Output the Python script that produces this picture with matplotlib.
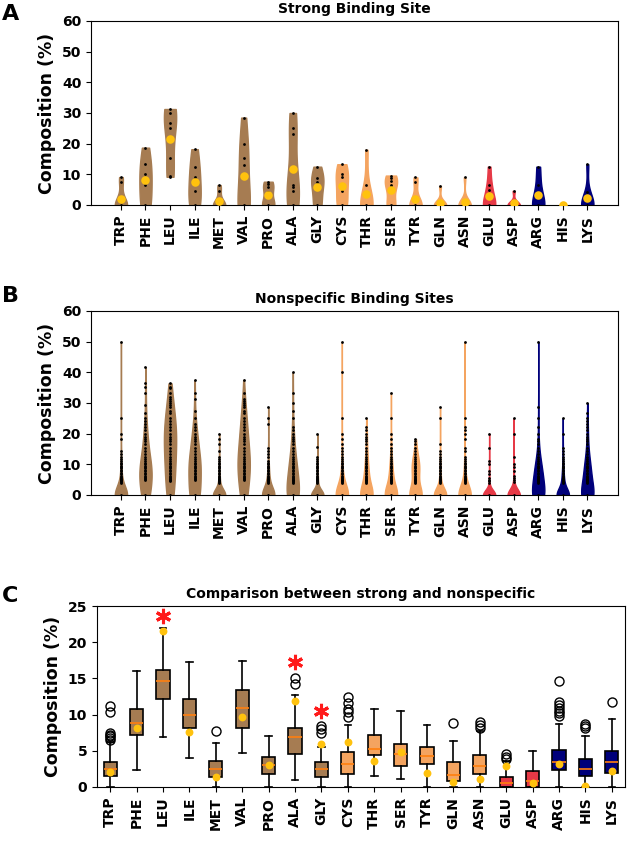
import numpy as np
import matplotlib
matplotlib.use('Agg')
import matplotlib.pyplot as plt

plt.rcParams['font.family'] = ['DejaVu Sans']
plt.rcParams['font.weight'] = 'bold'
plt.rcParams['axes.labelweight'] = 'bold'
plt.rcParams['axes.titleweight'] = 'bold'

RESIDUES = ['TRP', 'PHE', 'LEU', 'ILE', 'MET', 'VAL', 'PRO', 'ALA', 'GLY', 'CYS',
            'THR', 'SER', 'TYR', 'GLN', 'ASN', 'GLU', 'ASP', 'ARG', 'HIS', 'LYS']
GROUP = ['hyd'] * 9 + ['pol'] * 6 + ['neg'] * 2 + ['pos'] * 3
GROUP_COLORS = {'hyd': '#a67c52', 'pol': '#f4a460', 'neg': '#e63946', 'pos': '#00007a'}
MEAN_COLOR = '#ffc20e'

# Panel A: composition at the strong binding site (values per structure)
STRONG = [
    [0, 0, 0, 0, 0, 0, 7.4, 9.1],                  # TRP
    [0, 0, 6.5, 10.0, 13.3, 18.7],                  # PHE
    [9.2, 9.4, 15.4, 25.0, 26.7, 30.0, 31.3, 31.3], # LEU
    [0, 0, 4.6, 9.0, 12.5, 18.2],                   # ILE
    [0, 0, 0, 0, 0, 0, 4.6, 6.5],                   # MET
    [0, 0, 0, 0, 13.0, 15.3, 19.9, 28.5],           # VAL
    [0, 0, 0, 0, 4.3, 5.8, 6.8, 7.6],               # PRO
    [0, 0, 4.6, 6.0, 6.6, 23.0, 25.0, 30.0],        # ALA
    [0, 0, 6.3, 7.6, 8.9, 12.5],                    # GLY
    [0, 0, 4.6, 9.2, 10.0, 13.3],                   # CYS
    [0, 0, 0, 0, 0, 6.5, 18.0],                     # THR
    [0, 0, 0, 6.0, 6.6, 7.8, 8.9, 9.6],             # SER
    [0, 0, 0, 0, 0, 0, 7.5, 9.0],                   # TYR
    [0, 0, 0, 0, 0, 0, 0, 6.2],                     # GLN
    [0, 0, 0, 0, 0, 0, 0, 0, 9.0],                  # ASN
    [0, 0, 0, 0, 0, 4.8, 6.6, 12.5],                # GLU
    [0, 0, 0, 0, 0, 0, 4.6],                        # ASP
    [0, 0, 0, 0, 6.6, 12.5],                        # ARG
    [0, 0, 0, 0],                                   # HIS
    [0, 0, 0, 0, 0, 0, 4.4, 13.3],                  # LYS
]
STRONG_MEAN = [2.1, 8.2, 21.6, 7.6, 1.4, 9.6, 3.1, 11.9, 6.0, 6.2,
               3.6, 4.9, 2.0, 0.7, 1.1, 2.9, 0.55, 3.2, 0.1, 2.2]

# Panel B: nonspecific sites. Observed composition levels (%)
LEVELS = [4.0, 4.3, 4.5, 4.8, 5.0, 5.3, 5.6, 5.9, 6.3, 6.7, 7.1, 7.7, 8.3, 8.7,
          9.1, 9.5, 10.0, 10.5, 11.1, 11.8, 12.5, 13.3, 14.3, 15.4, 16.7, 17.6,
          18.2, 19.0, 20.0, 21.1, 22.2, 23.1, 24.0, 25.0, 26.7, 27.3, 28.6, 29.4,
          30.0, 30.8, 31.3, 32.0, 33.3, 34.8, 35.3, 36.4]
NS_ZEROS = [150, 30, 25, 35, 150, 25, 120, 50, 150, 150,
            80, 90, 60, 150, 150, 100, 100, 80, 130, 80]
NS_RANGE = [(4.0, 14.3), (5.0, 25.0), (4.5, 36.4), (5.0, 23.1), (4.0, 12.5),
            (5.0, 31.3), (4.0, 11.1), (4.0, 21.1), (4.0, 12.5), (4.0, 15.4),
            (4.0, 22.2), (4.0, 16.7), (4.0, 18.2), (4.0, 14.3), (4.0, 12.5),
            None, None, (4.0, 18.2), (4.0, 15.4), (4.0, 25.0)]
NS_EXTRA = [
    [18.2, 20.0, 25.0, 50.0],
    [26.7, 29.4, 33.3, 35.3, 36.4, 41.7],
    [],
    [25.0, 27.3, 31.3, 33.3, 37.5],
    [14.3, 16.7, 18.2, 20.0],
    [33.3, 37.5],
    [12.5, 13.3, 14.3, 15.4, 23.1, 25.0, 28.6],
    [22.2, 25.0, 27.3, 30.0, 33.3, 40.0],
    [15.8, 20.0],
    [16.7, 18.2, 20.0, 25.0, 40.0, 50.0],
    [25.0],
    [18.2, 20.0, 25.0, 33.3],
    [],
    [16.7, 25.0, 28.6],
    [14.3, 15.4, 18.2, 20.0, 21.1, 22.2, 25.0, 50.0],
    [4.0, 4.5, 5.0, 5.6, 6.7, 7.7, 10.0, 11.1, 15.4, 20.0],
    [4.3, 5.0, 5.6, 6.3, 7.7, 9.1, 10.0, 12.5, 20.0, 25.0],
    [20.0, 22.2, 25.0, 28.6, 50.0],
    [20.0, 25.0],
    [26.7, 30.0],
]
NS_BULK = [
    [],
    [(5.0, 8), (5.6, 7), (6.3, 7), (7.1, 6), (8.3, 6), (10.0, 6), (11.1, 5),
     (12.5, 4), (14.3, 4), (16.7, 3), (18.2, 2), (20.0, 2), (22.2, 1)],
    [(5.0, 4), (6.3, 4), (8.3, 5), (10.0, 6), (12.5, 7), (14.3, 8), (16.7, 9),
     (18.2, 9), (20.0, 9), (22.2, 8), (23.1, 7), (25.0, 7), (27.3, 6), (30.0, 5),
     (33.3, 3), (35.3, 2)],
    [(5.0, 6), (6.3, 5), (7.7, 5), (9.1, 5), (10.0, 5), (11.1, 5), (12.5, 5),
     (14.3, 5), (16.7, 4), (18.2, 3), (20.0, 3), (22.2, 2)],
    [(4.0, 3), (5.0, 3)],
    [(5.0, 5), (6.3, 5), (7.7, 5), (9.1, 6), (10.0, 6), (11.1, 6), (12.5, 6),
     (14.3, 6), (16.7, 6), (18.2, 6), (20.0, 5), (22.2, 5), (25.0, 4), (27.3, 3),
     (30.0, 2)],
    [(4.0, 3), (5.0, 3), (6.3, 2)],
    [(4.0, 5), (5.0, 5), (6.3, 4), (7.7, 4), (9.1, 3), (10.0, 3), (11.1, 3),
     (12.5, 3), (14.3, 2), (16.7, 2), (20.0, 1)],
    [(4.0, 3), (5.0, 3)],
    [(4.0, 3), (5.0, 3)],
    [(4.0, 3), (5.0, 4), (6.3, 3), (7.7, 3), (10.0, 3), (12.5, 2), (14.3, 1)],
    [(4.0, 3), (5.0, 4), (6.3, 3), (7.7, 3), (10.0, 2), (12.5, 1)],
    [(5.0, 2), (6.3, 3), (7.7, 5), (9.1, 6), (10.0, 6), (11.1, 5), (12.5, 3),
     (14.3, 2)],
    [(4.0, 2), (5.0, 3)],
    [(4.0, 2), (5.0, 3)],
    [],
    [],
    [(4.0, 12), (5.0, 12), (6.3, 10), (7.7, 8), (9.1, 6), (10.0, 5), (11.1, 4),
     (12.5, 3), (14.3, 2)],
    [(4.0, 5), (5.0, 5), (6.3, 3)],
    [(4.0, 8), (5.0, 8), (6.3, 7), (7.7, 6), (9.1, 5), (10.0, 5), (11.1, 4),
     (12.5, 3), (14.3, 2), (16.7, 1)],
]

# Panel C: box statistics of nonspecific sites (per-protein averages)
C_MED = [2.45, 8.9, 14.6, 10.0, 2.45, 10.9, 3.1, 6.9, 2.45, 3.2,
         5.3, 4.5, 4.3, 1.7, 2.9, 0.6, 0.85, 3.45, 2.45, 3.4]
C_Q1 = [1.5, 7.2, 12.1, 8.1, 1.4, 8.2, 1.75, 4.6, 1.4, 1.85,
        4.4, 2.9, 3.2, 0.85, 1.85, 0.0, 0.0, 2.3, 1.55, 2.0]
C_Q3 = [3.5, 10.8, 16.2, 12.2, 3.6, 13.4, 4.1, 8.1, 3.4, 4.8,
        7.2, 5.9, 5.5, 3.5, 4.4, 1.4, 2.2, 5.1, 3.9, 5.0]
C_WLO = [0.0, 2.4, 6.9, 4.0, 0.0, 4.7, 0.0, 0.9, 0.0, 0.0,
         1.5, 1.06, 0.0, 0.0, 0.0, 0.0, 0.0, 0.0, 0.0, 0.0]
C_WHI = [6.2, 16.0, 22.0, 17.2, 6.1, 17.4, 7.0, 12.7, 5.5, 8.6,
         10.8, 10.5, 8.6, 6.4, 7.8, 3.6, 5.0, 8.75, 7.0, 9.4]
C_FLIERS = [
    [6.5, 6.8, 7.0, 7.2, 7.5, 10.4, 11.2], [], [], [], [7.7], [], [],
    [14.2, 15.1], [7.5, 8.0, 8.4], [9.7, 10.3, 10.8, 11.6, 12.5],
    [], [], [], [8.9], [8.1, 8.5, 9.0], [3.9, 4.2, 4.5], [],
    [9.8, 10.2, 10.5, 10.9, 11.3, 11.7, 14.6], [8.1, 8.4, 8.7], [11.7],
]
STAR_RES = ['LEU', 'ALA', 'GLY']
STAR_Y = [23.6, 17.2, 10.5]

W, H = 628, 841
POS = np.arange(1, len(RESIDUES) + 1)
colors = [GROUP_COLORS[g] for g in GROUP]


def nonspecific_sample(i):
    vals = [0.0] * NS_ZEROS[i]
    if NS_RANGE[i] is not None:
        lo, hi = NS_RANGE[i]
        vals += [v for v in LEVELS if lo <= v <= hi]
    vals += NS_EXTRA[i]
    for v, c in NS_BULK[i]:
        vals += [v] * c
    return np.array(vals, dtype=float)


def axes_px(left, top, right, bottom):
    return fig.add_axes([left / W, 1 - bottom / H, (right - left) / W, (bottom - top) / H])


def draw_violins(ax, datasets, show_mean, bw):
    keep = [i for i, d in enumerate(datasets) if np.ptp(d) > 0]
    parts = ax.violinplot([datasets[i] for i in keep], positions=POS[keep],
                          widths=0.5, showextrema=False, bw_method=bw)
    for body, i in zip(parts['bodies'], keep):
        body.set_facecolor(colors[i])
        body.set_edgecolor(colors[i])
        body.set_linewidth(1.0)
        body.set_alpha(1)
    for i, d in enumerate(datasets):
        u = np.unique(d)
        ax.scatter(np.full(len(u), POS[i]), u, s=4, color='black', zorder=3,
                   linewidths=0)
    if show_mean:
        ax.scatter(POS, STRONG_MEAN, s=38, color=MEAN_COLOR, zorder=4, linewidths=0)


def style_axes(ax, title, ymax, ystep, xlim):
    ax.set_xlim(*xlim)
    ax.set_ylim(0, ymax)
    ax.set_yticks(np.arange(0, ymax + 1, ystep))
    ax.set_xticks(POS)
    ax.set_xticklabels(RESIDUES, rotation=90)
    ax.tick_params(labelsize=10)
    ax.set_ylabel('Composition (%)', fontsize=12.5)
    ax.set_title(title, fontsize=10)


fig = plt.figure(figsize=(W / 100, H / 100), dpi=100)

# A
axA = axes_px(91, 21, 618, 205)
draw_violins(axA, [np.array(d, dtype=float) for d in STRONG], True, 'scott')
style_axes(axA, 'Strong Binding Site', 60, 10, (-0.22, 21.25))

# B
axB = axes_px(91, 311, 618, 495)
draw_violins(axB, [nonspecific_sample(i) for i in range(len(RESIDUES))], False, 0.55)
style_axes(axB, 'Nonspecific Binding Sites', 60, 10, (-0.22, 21.25))

# C
axC = axes_px(97, 606, 625, 787)
stats = []
for i, r in enumerate(RESIDUES):
    stats.append({'med': C_MED[i], 'q1': C_Q1[i], 'q3': C_Q3[i],
                  'whislo': C_WLO[i], 'whishi': C_WHI[i],
                  'fliers': C_FLIERS[i], 'label': r})
bp = axC.bxp(stats, positions=POS, widths=0.5, patch_artist=True,
             boxprops=dict(edgecolor='black', linewidth=1.2),
             whiskerprops=dict(color='black', linewidth=1.2),
             capprops=dict(color='black', linewidth=1.2),
             medianprops=dict(color='#ff7f0e', linewidth=1.2),
             flierprops=dict(marker='o', markerfacecolor='none',
                             markeredgecolor='black', markersize=6.5))
for box, c in zip(bp['boxes'], colors):
    box.set_facecolor(c)
axC.scatter(POS, STRONG_MEAN, s=32, color=MEAN_COLOR, zorder=4, linewidths=0)
for r, y in zip(STAR_RES, STAR_Y):
    axC.plot(POS[RESIDUES.index(r)], y, marker=(6, 2, 0), markersize=11,
             markeredgewidth=2.2, color='#ff1a1a', zorder=5)
style_axes(axC, 'Comparison between strong and nonspecific', 25, 5, (0.5, 20.5))

# panel letters
for letter, (x, y) in zip('ABC', [(11, 14), (11, 296), (10, 596)]):
    fig.text(x / W, 1 - y / H, letter, fontsize=16, fontweight='bold',
             ha='center', va='center')

fig.savefig('out.png', dpi=100)
